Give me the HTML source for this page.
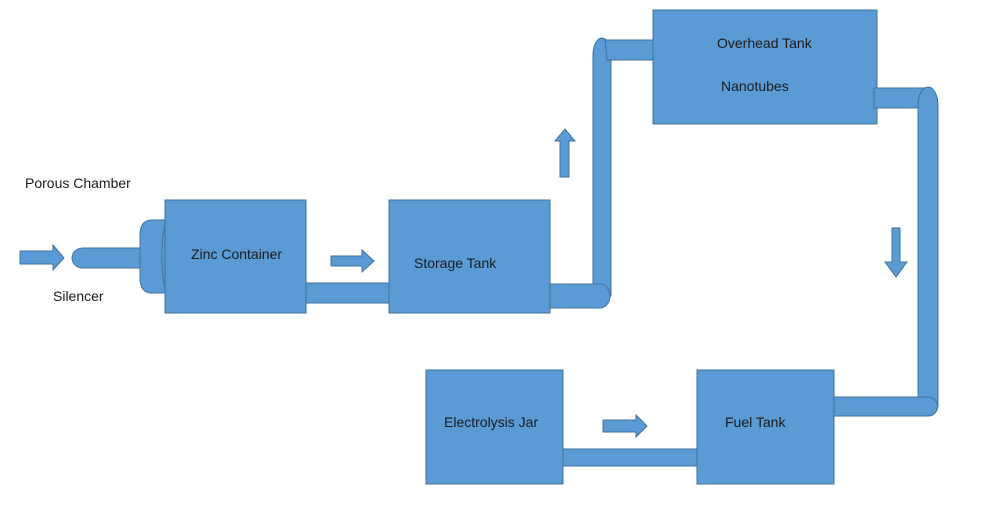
<!DOCTYPE html>
<html><head><meta charset="utf-8"><style>
html,body{margin:0;padding:0;background:#fff;}
svg{display:block;}
text{font-family:"Liberation Sans",sans-serif;font-size:14px;fill:#1a1a1a;}
</style></head><body>
<svg width="1000" height="527" viewBox="0 0 1000 527" xmlns="http://www.w3.org/2000/svg">
<g fill="#5b9bd5" stroke="#41719c" stroke-width="1">
<!-- left arrow -->
<polygon points="20,251 53,251 53,245 64,258 53,270 53,264 20,264"/>
<!-- silencer tube -->
<path d="M145,248 L83,248 A11,10 0 0 0 83,268 L145,268 Z"/>
<!-- porous chamber -->
<path d="M168,220 L152,220 Q140,220 140,235 L140,278 Q140,293 152,293 L168,293 Z"/>
<path d="M168,220 A6,36 0 0 0 168,293" fill="none"/>
<!-- pipe zinc->storage -->
<rect x="300" y="283" width="92" height="20"/>
<!-- zinc container -->
<rect x="165" y="200" width="141" height="113"/>
<!-- arrow -->
<polygon points="331,256 362,256 362,250 374,261 362,272 362,266 331,266"/>
<!-- vertical pipe left -->
<path d="M593,296 L593,55 A9,17 0 0 1 611,55 L611,296 Z"/>
<!-- pipe storage->vertical -->
<path d="M545,284 L600,284 A10,12 0 0 1 600,308 L545,308 Z"/>
<!-- top pipe -->
<path d="M605,40 L656,40 L656,60 L607,60 Z"/>
<!-- storage tank -->
<rect x="389" y="200" width="161" height="113"/>
<!-- up arrow -->
<polygon points="560,177 560,141 555,141 565,129 575,141 569,141 569,177"/>
<!-- overhead tank -->
<rect x="653" y="10" width="224" height="114"/>
<!-- right pipe top -->
<path d="M874,88 L928,88 L928,108 L874,108 Z"/>
<!-- vertical right -->
<path d="M918,405 L918,105 A10,18 0 0 1 938,105 L938,405 A10,10 0 0 1 928,415 Z"/>
<!-- pipe fuel->right -->
<path d="M830,397 L928,397 A9,9 0 0 1 928,416 L830,416 Z"/>
<!-- down arrow -->
<polygon points="892,228 900,228 900,262 907,262 896,277 885,262 892,262"/>
<!-- bottom pipe -->
<rect x="558" y="449" width="142" height="17"/>
<!-- electrolysis jar -->
<rect x="426" y="370" width="137" height="114"/>
<!-- fuel tank -->
<rect x="697" y="370" width="137" height="114"/>
<!-- arrow -->
<polygon points="603,420 636,420 636,415 647,426 636,437 636,432 603,432"/>
</g>
<text x="25" y="188">Porous Chamber</text>
<text x="53" y="301">Silencer</text>
<text x="191" y="259">Zinc Container</text>
<text x="414" y="268">Storage Tank</text>
<text x="717" y="48">Overhead Tank</text>
<text x="721" y="91">Nanotubes</text>
<text x="444" y="427">Electrolysis Jar</text>
<text x="725" y="427">Fuel Tank</text>
</svg>
</body></html>
